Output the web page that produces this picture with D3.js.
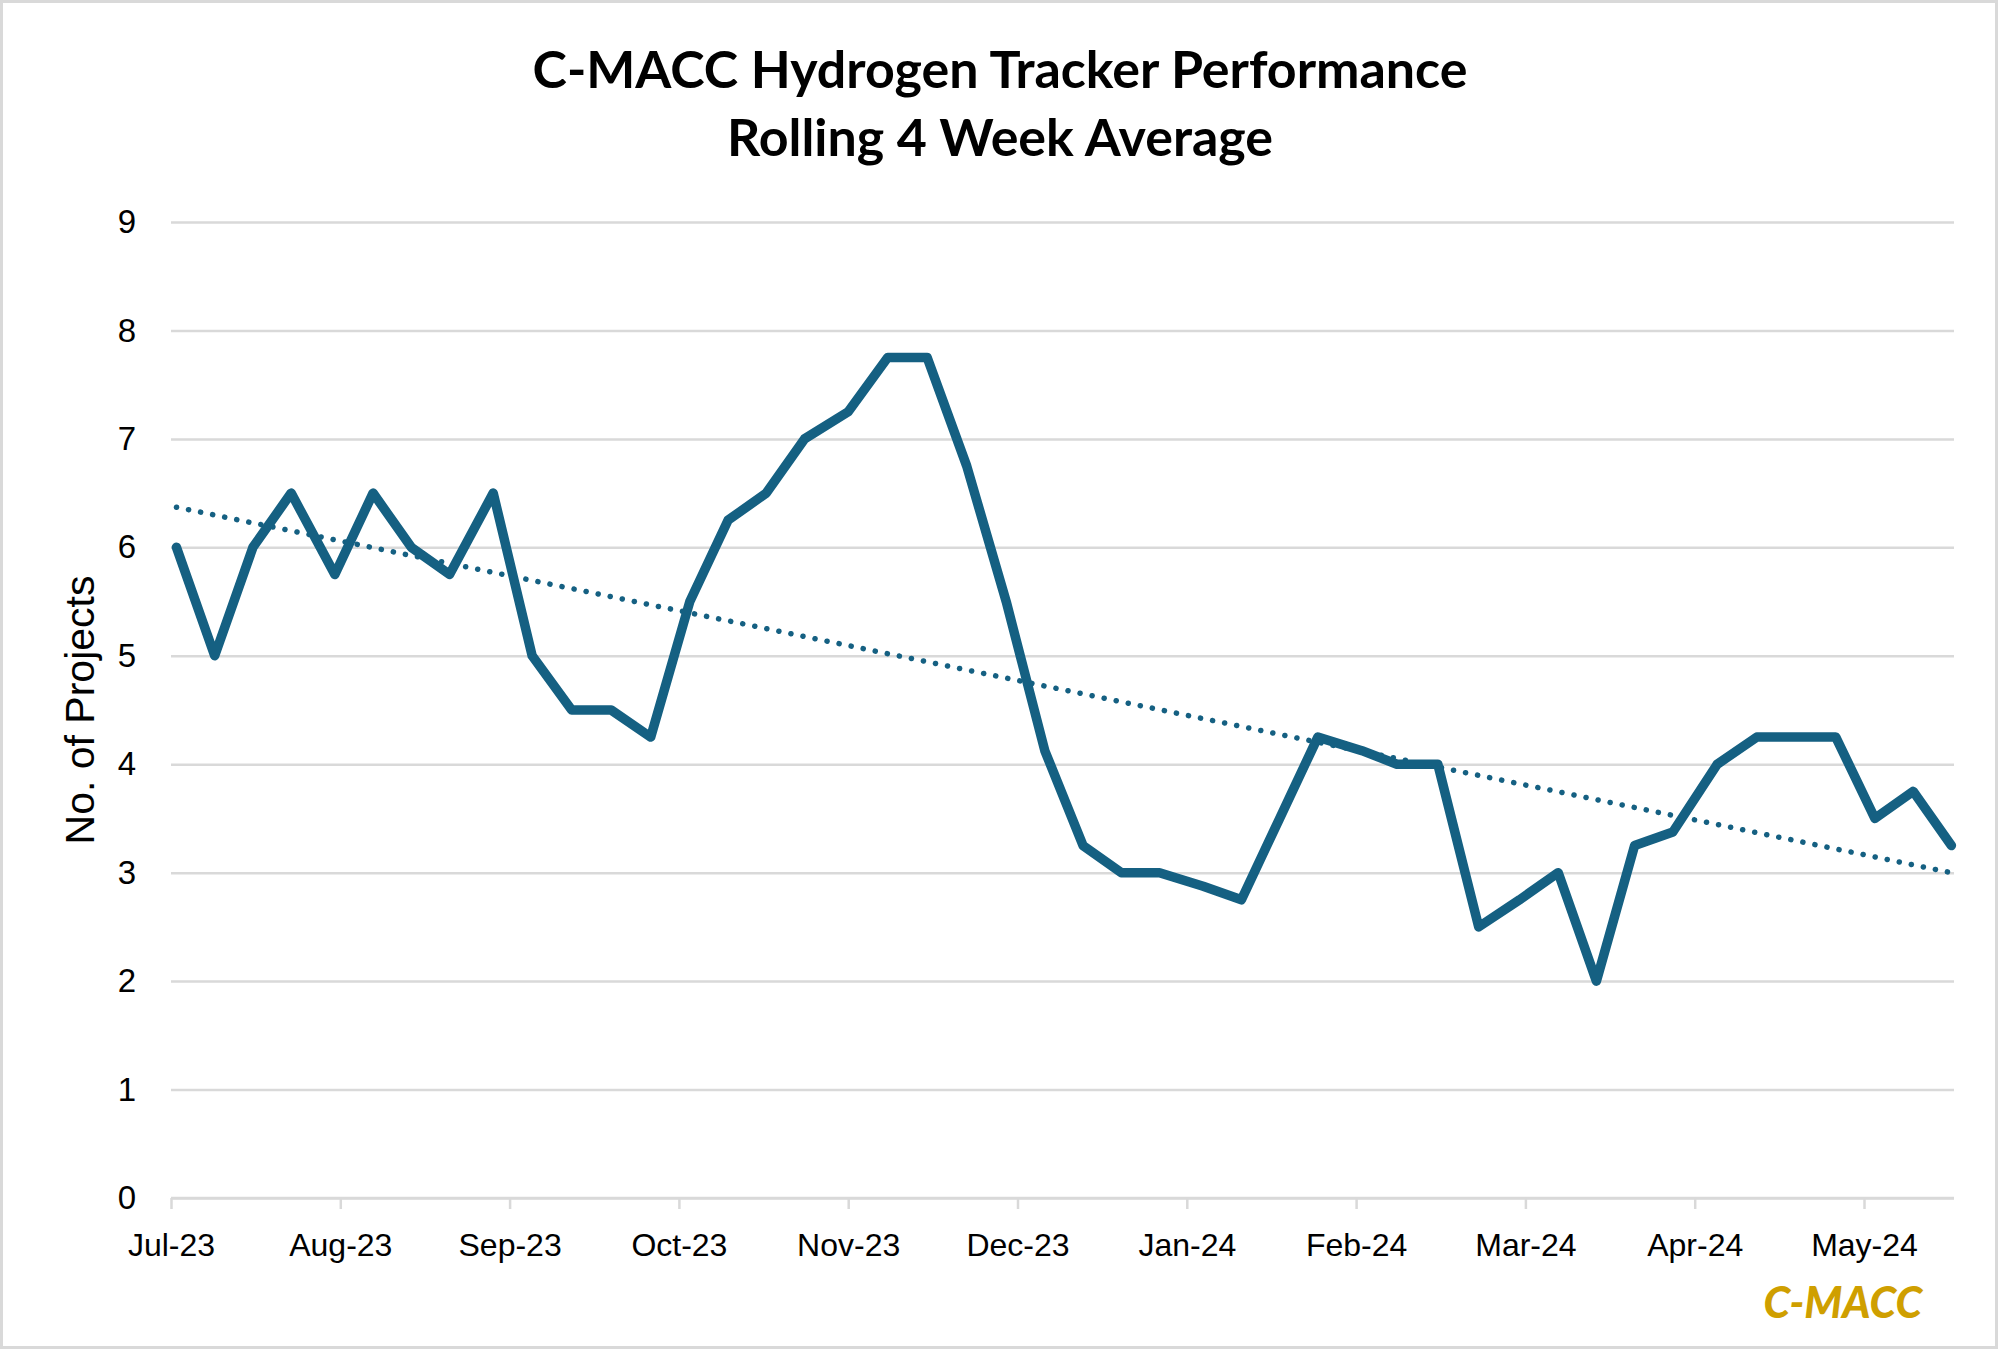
<!DOCTYPE html>
<html>
<head>
<meta charset="utf-8">
<script src="https://cdn.jsdelivr.net/npm/d3@7"></script>
<style>
  html, body { margin: 0; padding: 0; background: #fff; }
  svg { display: block; }
</style>
</head>
<body>
<div id="chart"></div>
<script>
// Dates of the rolling average points
const weekDates = [
    "2023-07-02", "2023-07-09", "2023-07-16", "2023-07-23", "2023-07-31",
    "2023-08-07", "2023-08-14", "2023-08-21", "2023-08-29", "2023-09-05",
    "2023-09-12", "2023-09-19", "2023-09-26", "2023-10-03", "2023-10-10",
    "2023-10-17", "2023-10-24", "2023-11-01", "2023-11-08", "2023-11-15",
    "2023-11-22", "2023-11-29", "2023-12-06", "2023-12-13", "2023-12-20",
    "2023-12-27", "2024-01-04", "2024-01-11", "2024-01-18", "2024-01-25",
    "2024-02-02", "2024-02-08", "2024-02-15", "2024-02-22", "2024-02-29",
    "2024-03-07", "2024-03-14", "2024-03-21", "2024-03-28", "2024-04-05",
    "2024-04-12", "2024-04-19", "2024-04-26", "2024-05-03", "2024-05-10",
    "2024-05-17"
];

// No. of projects, rolling 4 week average
const projectAvg = [
    6, 5, 6, 6.5, 5.75, 6.5, 6, 5.75, 6.5, 5,
    4.5, 4.5, 4.25, 5.5, 6.25, 6.5, 7, 7.25, 7.75, 7.75,
    6.75, 5.5, 4.125, 3.25, 3, 3, 2.875, 2.75, 3.5, 4.25,
    4.125, 4, 4, 2.5, 2.75, 3, 2, 3.25, 3.375, 4,
    4.25, 4.25, 4.25, 3.5, 3.75, 3.25
];

const yTicks = [0, 1, 2, 3, 4, 5, 6, 7, 8, 9];
const axisStart = "2023-07-01";
const axisEnd = "2024-05-17";

const titleLines = ["C-MACC Hydrogen Tracker Performance", "Rolling 4 Week Average"];
const yTitle = "No. of Projects";
const brand = "C-MACC";

function drawChart() {
    const width = 2000;
    const height = 1351;
    const plot = { left: 171, right: 1954, top: 222, bottom: 1198 };
    const monthWidth = 169.3; // every month gets the same width, like the original axis
    const lineColor = "#156082";
    const gridColor = "#d9d9d9";
    const parse = d3.timeParse("%Y-%m-%d");

    const data = weekDates.map((d, i) => ({ date: parse(d), value: projectAvg[i] }));

    const svg = d3.select("#chart")
        .append("svg")
        .attr("width", width)
        .attr("height", height);

    svg.append("rect")
        .attr("x", 1.5).attr("y", 1.5)
        .attr("width", width - 5).attr("height", height - 5)
        .attr("fill", "#fff")
        .attr("stroke", gridColor)
        .attr("stroke-width", 3);

    // piecewise time scale: month starts evenly spaced
    const start = parse(axisStart);
    const end = parse(axisEnd);
    const months = d3.timeMonth.range(start, d3.timeMonth.ceil(end));
    const lastMonth = months[months.length - 1];
    const endFrac = (end - lastMonth) / (d3.timeMonth.offset(lastMonth, 1) - lastMonth);
    const x = d3.scaleTime()
        .domain(months.concat([end]))
        .range(months.map((m, i) => plot.left + i * monthWidth)
            .concat([plot.left + (months.length - 1 + endFrac) * monthWidth]));

    const y = d3.scaleLinear()
        .domain([0, 9])
        .range([plot.bottom, plot.top]);

    // horizontal gridlines + y labels
    const yAxis = svg.append("g")
        .attr("transform", `translate(${plot.left},0)`)
        .call(d3.axisLeft(y).tickValues(yTicks).tickSize(-(plot.right - plot.left)).tickPadding(35));
    yAxis.select(".domain").remove();
    yAxis.selectAll("line")
        .attr("stroke", gridColor)
        .attr("stroke-width", 2.5);
    yAxis.selectAll("text")
        .attr("font-family", "'Liberation Sans', Arial, sans-serif")
        .attr("font-size", 33)
        .attr("fill", "#000");

    // date axis with month ticks
    const xAxis = svg.append("g")
        .attr("transform", `translate(0,${plot.bottom})`)
        .call(d3.axisBottom(x)
            .tickValues(months)
            .tickFormat(d3.timeFormat("%b-%y"))
            .tickSize(11)
            .tickSizeOuter(0)
            .tickPadding(24));
    xAxis.select(".domain").remove();
    xAxis.append("line")
        .attr("x1", plot.left).attr("x2", plot.right)
        .attr("stroke", gridColor)
        .attr("stroke-width", 2.5);
    xAxis.selectAll(".tick line")
        .attr("stroke", gridColor)
        .attr("stroke-width", 2.5);
    xAxis.selectAll("text")
        .attr("font-family", "'Liberation Sans', Arial, sans-serif")
        .attr("font-size", 32)
        .attr("fill", "#000");

    // linear trendline (least squares on the plotted positions)
    const xs = data.map(d => x(d.date));
    const xm = d3.mean(xs);
    const ym = d3.mean(projectAvg);
    const slope = d3.sum(data, (d, i) => (xs[i] - xm) * (d.value - ym)) /
        d3.sum(xs, v => (v - xm) * (v - xm));
    const trend = [xs[0], xs[xs.length - 1]].map(px => [px, y(ym + slope * (px - xm))]);

    svg.append("path")
        .attr("d", d3.line()(trend))
        .attr("fill", "none")
        .attr("stroke", lineColor)
        .attr("stroke-width", 5.5)
        .attr("stroke-linecap", "round")
        .attr("stroke-dasharray", "0.1 12.2");

    const line = d3.line()
        .x(d => x(d.date))
        .y(d => y(d.value));

    svg.append("path")
        .datum(data)
        .attr("d", line)
        .attr("fill", "none")
        .attr("stroke", lineColor)
        .attr("stroke-width", 9.5)
        .attr("stroke-linejoin", "round")
        .attr("stroke-linecap", "round");

    // title, sized so line one spans the same width as the original
    const title = svg.append("text")
        .attr("text-anchor", "middle")
        .attr("font-family", "Lato, 'Open Sans', sans-serif")
        .attr("font-weight", 700)
        .attr("font-size", 48)
        .attr("fill", "#000");
    title.selectAll("tspan")
        .data(titleLines)
        .enter()
        .append("tspan")
        .attr("x", width / 2)
        .attr("y", (d, i) => 88 + i * 68)
        .text(d => d);
    const w1 = title.select("tspan").node().getComputedTextLength();
    title.attr("font-size", 48 * 935 / w1);

    svg.append("text")
        .attr("transform", "translate(94,710) rotate(-90)")
        .attr("text-anchor", "middle")
        .attr("font-family", "'Liberation Sans', Arial, sans-serif")
        .attr("font-size", 41)
        .attr("fill", "#000")
        .text(yTitle);

    svg.append("text")
        .attr("x", 1922)
        .attr("y", 1318)
        .attr("text-anchor", "end")
        .attr("font-family", "Lato, 'Open Sans', sans-serif")
        .attr("font-weight", 900)
        .attr("font-style", "italic")
        .attr("font-size", 43)
        .attr("fill", "#cf9f00")
        .text(brand);
}

document.addEventListener("DOMContentLoaded", drawChart);
</script>
</body>
</html>
